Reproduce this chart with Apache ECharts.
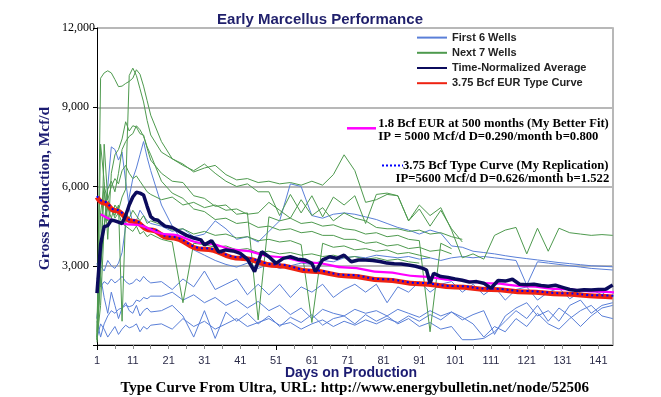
<!DOCTYPE html>
<html><head><meta charset="utf-8">
<script src="https://cdn.jsdelivr.net/npm/echarts@6/dist/echarts.min.js"></script>
<style>html,body{margin:0;padding:0;background:#fff}#c{width:661px;height:397px}</style>
</head><body><div id="c"></div>
<script>
// ---------- data ----------
const wellDays = [1,2,3,4,5,6,7,8,9,10,11,12,13,14,15,16,
  19,22,25,28,31,34,37,40,43,46,
  49,52,55,58,61,64,67,70,73,76,
  79,82,85,88,91,94,97,100,103,106,
  109,112,115,118,121,124,127,130,133,136,
  139,142,145];

// First 6 wells (blue)
const firstWell1 = [1000,3000,4500,6000,7500,7400,7000,7300,6200,5200,4600,4700,5100,4900,4700,4600,
  4500,4300,4400,4100,4200,4700,4400,4000,4100,3900,
  4300,4700,6100,6000,4900,4800,4950,5000,4950,4850,
  4750,4600,4450,4350,4200,4350,4230,3750,3700,3550,
  3500,3450,3380,3320,3270,3220,3170,3120,3080,3040,
  3000,2980,2960];
const firstWell2 = [2500,3000,2800,3200,3000,2900,3100,3500,4500,5600,6300,6700,7200,7700,7100,6600,
  5300,4500,3900,3600,3400,3200,3050,2950,3100,2900,
  3050,2900,3000,3100,3050,3200,3150,3300,3350,3300,
  3400,3350,3300,3350,3250,3300,3200,3300,3350,3300,
  3350,3300,3250,3200,2270,3150,3100,3050,3000,2950,
  2900,2870,2840];
const firstWell3 = [3100,2200,2400,2300,2500,2350,2450,2600,2400,2300,2350,2500,2400,2600,2450,2350,
  2400,2100,2500,2200,2800,2100,2300,2500,1900,2300,
  1900,2300,1800,2200,2000,2300,1800,2100,2300,2000,
  2300,1600,2200,2000,2400,2000,2300,2400,2000,2300,
  1900,2200,1700,2100,2200,1700,2000,2150,1750,2000,
  2100,1900,2250];
const firstWell4 = [900,300,800,1100,1300,1200,1350,1400,1500,1450,1500,1700,1650,1800,1750,1850,
  1850,2000,1700,1900,1600,1800,1500,1700,1400,1650,
  1300,1500,1150,1400,1000,1350,1200,1100,1350,1200,
  1300,1100,1350,1200,1050,1300,1100,1250,950,1150,
  1300,400,1100,1400,1600,1100,1300,900,1500,1700,
  1200,1500,1600];
const firstWell5 = [1000,2600,1800,1200,2000,1500,1000,1400,1600,1300,1200,1500,1100,1300,1400,1250,
  1300,1500,1100,300,1300,250,1250,900,1200,800,
  1100,700,1050,850,1150,750,1000,1100,800,1150,
  900,1100,800,1000,700,850,600,700,200,200,
  250,500,900,1300,1000,1500,900,1400,1100,700,
  1100,1400,1500];
const firstWell6 = [250,800,600,300,500,700,400,600,750,650,700,800,500,700,600,750,
  800,600,1000,700,900,600,800,1000,700,850,
  1000,750,850,600,800,950,700,900,750,950,
  800,1000,850,1100,900,1150,950,1250,1050,800,
  300,700,500,1000,700,1200,800,600,1000,1300,
  1500,1100,1000];

// Next 7 wells (green)
const nextWell1 = [300,10100,10300,10380,10300,10050,9780,9800,9900,9980,10100,10420,10250,9800,9250,8700,
  7700,7050,6850,6550,6700,6800,6450,6250,6300,6150,
  6200,6100,6150,6050,6200,6050,6450,7200,6600,5400,
  5500,5700,5650,4700,5300,4900,5200,4350,3300,3450,
  3250,4150,4350,4450,3450,4420,3550,4420,4250,4200,
  4150,4180,4150];
const nextWell2 = [200,3000,4500,5200,4800,5300,5100,5600,5900,10200,10480,10200,9700,9200,8500,7950,
  7300,7050,6800,6600,6850,6500,6200,6000,6100,5800,
  5800,4900,5700,5000,5650,4850,5600,5300,5650,4600,
  5700,5750,5650,4700,5150,4500,5100,4400,3900,null,
  null,null,null,null,null,null,null,null,null,null,
  null,null,null];
const nextWell3 = [500,7600,6200,4000,6500,7200,7400,7800,8450,8100,8300,8250,8000,7950,7450,7000,
  6500,6200,6150,5650,5550,5250,5300,4950,5000,950,
  4850,4700,4800,4600,4650,4500,4550,4400,4350,4200,
  4250,4100,4150,4000,3950,500,3850,3650,null,null,
  null,null,null,null,null,null,null,null,null,null,
  null,null,null];
const nextWell4 = [200,1500,4500,5900,6200,5800,6500,7400,7700,7900,8000,8300,8150,7900,7500,7200,
  6200,5750,5550,5150,5050,4750,4800,4600,4650,4450,
  4500,4350,4400,4250,4300,4150,4150,4000,4000,3850,
  3900,3750,3800,3650,3700,3550,3600,3450,null,null,
  null,null,null,null,null,null,null,null,null,null,
  null,null,null];
const nextWell5 = [100,3200,5800,4700,5200,4900,5300,900,5000,4800,5100,4900,4700,4900,4600,4700,
  4550,4350,4400,4200,4300,4150,4200,4050,4100,3950,
  4000,3900,3950,3800,850,3850,3700,3750,3600,3650,
  3550,3600,3450,3500,3400,3300,null,null,null,null,
  null,null,null,null,null,null,null,null,null,null,
  null,null,null];
const nextWell6 = [300,5000,6000,5500,5200,4800,5000,4600,4500,4400,4300,4500,4200,4300,4100,4200,
  4000,3900,1600,3850,3800,3700,3750,3600,3650,3500,
  3550,3450,3500,3400,3450,3350,3400,3300,3350,3250,
  3300,3200,3250,3150,3100,null,null,null,null,null,
  null,null,null,null,null,null,null,null,null,null,
  null,null,null];
const nextWell7 = [200,2500,7600,5500,6000,6300,6100,6600,6800,6500,6300,6400,6200,6000,5800,5700,
  5500,5600,5300,5400,5200,5300,5100,5150,4950,5000,
  5400,5100,4800,5500,4900,5200,4700,5000,4800,4700,
  4450,4400,4400,4300,4350,4200,4250,4100,4000,null,
  null,null,null,null,null,null,null,null,null,null,
  null,null,null];

// Time-normalized average
const avgDays = [1,2,3,4,5,6,7,8,9,10,11,12,13,14,15,16,17,18,19,20,22,24,26,28,30,
  31,33,35,37,39,41,43,45,47,49,51,53,55,57,59,61,
  62,64,66,68,70,72,74,76,78,80,82,84,86,88,90,92,
  93,94,95,97,99,101,103,105,107,109,111,113,115,117,119,121,123,125,127,129,131,133,135,137,139,141,143,145];
const avgValues = [1960,3800,4480,4520,4730,4700,4650,4600,4900,5300,5600,5780,5750,5680,5250,4860,4750,4720,4600,4500,4450,4300,4150,4050,3980,
  3790,3950,3520,3600,3560,3470,3250,2780,3530,3340,3090,3280,3340,3250,3220,3090,
  2780,3220,3340,3280,3400,3150,3220,3220,3200,3160,3100,3080,3070,3030,2980,2900,
  2840,2340,2715,2590,2560,2500,2450,2380,2400,2340,2150,2440,2420,2490,2300,2280,2300,2250,2220,2260,2180,2100,2060,2090,2080,2100,2110,2270];

// 3.75 Bcf EUR type curve (red)
const typeDays = [1,3,6,11,16,21,31,41,51,61,71,81,91,101,111,121,131,141,145];
const typeValues = [5600,5380,5090,4680,4350,4070,3620,3280,3010,2790,2610,2460,2320,2200,2100,2010,1930,1850,1820];
// My replication (blue dotted)
const replDays = [1,3,6,11,16,21,31,41,51,61,71,81,91,101,111,121,131,141,147];
const replValues = [5640,5420,5130,4720,4390,4110,3660,3320,3050,2830,2650,2490,2350,2230,2130,2040,1960,1880,1840];
// My better fit (magenta)
const fitDays = [2,11,21,31,41,51,61,71,81,91,101,111,121,131,141,147];
const fitValues = [4950,4560,4190,3860,3580,3340,3120,2930,2760,2600,2460,2330,2220,2110,2020,1960];

const dayCategories = [];
for (let d = 1; d <= 145; d++) dayCategories.push(String(d));
const yTicks = {min: 0, max: 12000, step: 3000};

// ---------- chart ----------
const BLUE = '#5a7fd8', GREEN = '#4e9a4e', NAVY = '#1c1c72';
const CLEAR = 'rgba(0,0,0,0)';
const SERIF = "'Liberation Serif','Times New Roman',serif";
const SANS = "'Liberation Sans',Arial,sans-serif";
function pairs(days, vals) {
  return days.map((d, i) => [d, vals[i]]).filter(p => p[1] !== null && p[1] !== undefined);
}
const series = [];
[firstWell1, firstWell2, firstWell3, firstWell4, firstWell5, firstWell6].forEach(w => series.push({
  type: 'line', name: 'First 6 Wells', data: pairs(wellDays, w), symbol: 'none',
  lineStyle: {width: 1, color: BLUE}, itemStyle: {color: CLEAR, borderWidth: 0}, z: 2
}));
[nextWell1, nextWell2, nextWell3, nextWell4, nextWell5, nextWell6, nextWell7].forEach(w => series.push({
  type: 'line', name: 'Next 7 Wells', data: pairs(wellDays, w), symbol: 'none',
  lineStyle: {width: 1, color: GREEN}, itemStyle: {color: CLEAR, borderWidth: 0}, z: 2
}));
series.push({type: 'line', name: '3.75 Bcf EUR Type Curve', data: pairs(typeDays, typeValues), symbol: 'none',
  smooth: true, smoothMonotone: 'x', lineStyle: {width: 5, color: '#ee2211'}, itemStyle: {color: CLEAR, borderWidth: 0}, z: 3});
series.push({type: 'line', name: 'My Replication', data: pairs(replDays, replValues), symbol: 'none', clip: false,
  smooth: true, smoothMonotone: 'x', lineStyle: {width: 2, color: '#0000ff', type: [2, 3]}, z: 4});
series.push({type: 'line', name: 'My Better Fit', data: pairs(fitDays, fitValues), symbol: 'none', clip: false,
  smooth: true, smoothMonotone: 'x', lineStyle: {width: 2.2, color: '#ff00ff'}, z: 5});
series.push({type: 'line', name: 'Time-Normalized Average', data: pairs(avgDays, avgValues), symbol: 'none',
  lineStyle: {width: 3.5, color: '#0b0b5c'}, itemStyle: {color: CLEAR, borderWidth: 0}, z: 6});

const gridBox = {left: 97, right: 48.3, top: 28, bottom: 52, containLabel: false, outerBoundsMode: 'none'};
const option = {
  animation: false,
  backgroundColor: '#fff',
  grid: [Object.assign({}, gridBox), Object.assign({}, gridBox)],
  legend: {
    data: ['First 6 Wells', 'Next 7 Wells', 'Time-Normalized Average', '3.75 Bcf EUR Type Curve'],
    orient: 'vertical', left: 416, top: 32, padding: 0, itemWidth: 30, itemHeight: 14, itemGap: 4,
    selectedMode: false,
    itemStyle: {color: CLEAR, borderWidth: 0, borderColor: CLEAR},
    textStyle: {fontFamily: SANS, fontSize: 11, fontWeight: 'bold', color: '#222'}
  },
  xAxis: [
    {gridIndex: 0, type: 'value', min: 1, max: 145, show: false, position: 'top'},
    {gridIndex: 0, type: 'category', data: dayCategories, boundaryGap: false, position: 'bottom',
      axisLine: {show: true, lineStyle: {color: '#000', width: 1}},
      axisTick: {show: true, interval: 4, length: 4, lineStyle: {color: '#8a8a8a'}},
      axisLabel: {interval: 9, margin: 10, fontFamily: SANS, fontSize: 11, color: '#2b2b48'},
      splitLine: {show: false}},
    {gridIndex: 1, type: 'category', data: dayCategories, boundaryGap: false, position: 'bottom',
      axisLine: {show: false}, axisLabel: {show: false}, splitLine: {show: false},
      axisTick: {show: true, interval: 49, length: 5, lineStyle: {color: '#000'}}}
  ],
  yAxis: [
    {gridIndex: 0, type: 'value', min: yTicks.min, max: yTicks.max, interval: yTicks.step, position: 'left',
      axisLine: {show: true, lineStyle: {color: '#000'}},
      axisTick: {show: true, length: 4, lineStyle: {color: '#000'}},
      axisLabel: {margin: 35, align: 'left', fontFamily: SERIF, fontSize: 12, color: '#000',
        formatter: v => v === 0 ? '' : v.toLocaleString('en-US')},
      splitLine: {show: true, lineStyle: {color: '#b8b8b8', width: 2}}},
    {gridIndex: 0, type: 'value', min: yTicks.min, max: yTicks.max, interval: yTicks.step, position: 'right',
      axisLine: {show: true, lineStyle: {color: '#b8b8b8', width: 2}},
      axisTick: {show: false}, axisLabel: {show: false}, splitLine: {show: false}},
    {gridIndex: 1, type: 'value', min: 0, max: 1, show: false}
  ],
  series: series,
  graphic: [
    {type: 'text', x: 320, y: 19.5, style: {text: 'Early Marcellus Performance', fontFamily: SANS, fontSize: 15,
      fontWeight: 'bold', fill: '#1f1f6b', align: 'center', verticalAlign: 'middle'}},
    {type: 'text', x: 45, y: 188.5, rotation: Math.PI / 2, style: {text: 'Gross Production, Mcf/d', fontFamily: SERIF,
      fontSize: 15.5, fontWeight: 'bold', fill: NAVY, align: 'center', verticalAlign: 'middle'}},
    {type: 'text', x: 351, y: 373.3, style: {text: 'Days on Production', fontFamily: SANS, fontSize: 14,
      fontWeight: 'bold', fill: NAVY, align: 'center', verticalAlign: 'middle'}},
    {type: 'text', x: 354.7, y: 388.3, style: {text: 'Type Curve From Ultra, URL: http://www.energybulletin.net/node/52506',
      fontFamily: SERIF, fontSize: 15, fontWeight: 'bold', fill: '#000', align: 'center', verticalAlign: 'middle'}},
    {type: 'line', shape: {x1: 347, y1: 128.3, x2: 376, y2: 128.3}, style: {stroke: '#ff00ff', lineWidth: 2.5}},
    {type: 'text', x: 378.3, y: 123.3, style: {text: '1.8 Bcf EUR at 500 months (My Better Fit)', fontFamily: SERIF,
      fontSize: 12.6, fontWeight: 'bold', fill: '#000', align: 'left', verticalAlign: 'middle'}},
    {type: 'text', x: 378.3, y: 137.2, style: {text: 'IP = 5000 Mcf/d D=0.290/month b=0.800', fontFamily: SERIF,
      fontSize: 12.7, fontWeight: 'bold', fill: '#000', align: 'left', verticalAlign: 'middle'}},
    {type: 'line', shape: {x1: 382, y1: 165.5, x2: 403, y2: 165.5}, style: {stroke: '#0000ff', lineWidth: 2, lineDash: [2, 2]}},
    {type: 'text', x: 608.5, y: 165.3, style: {text: '3.75 Bcf Type Curve (My Replication)', fontFamily: SERIF,
      fontSize: 12.7, fontWeight: 'bold', fill: '#000', align: 'right', verticalAlign: 'middle'}},
    {type: 'text', x: 609.3, y: 178.7, style: {text: 'IP=5600 Mcf/d D=0.626/month b=1.522', fontFamily: SERIF,
      fontSize: 12.7, fontWeight: 'bold', fill: '#000', align: 'right', verticalAlign: 'middle'}}
  ]
};
const chart = echarts.init(document.getElementById('c'), null, {renderer: 'canvas'});
chart.setOption(option);
</script></body></html>
